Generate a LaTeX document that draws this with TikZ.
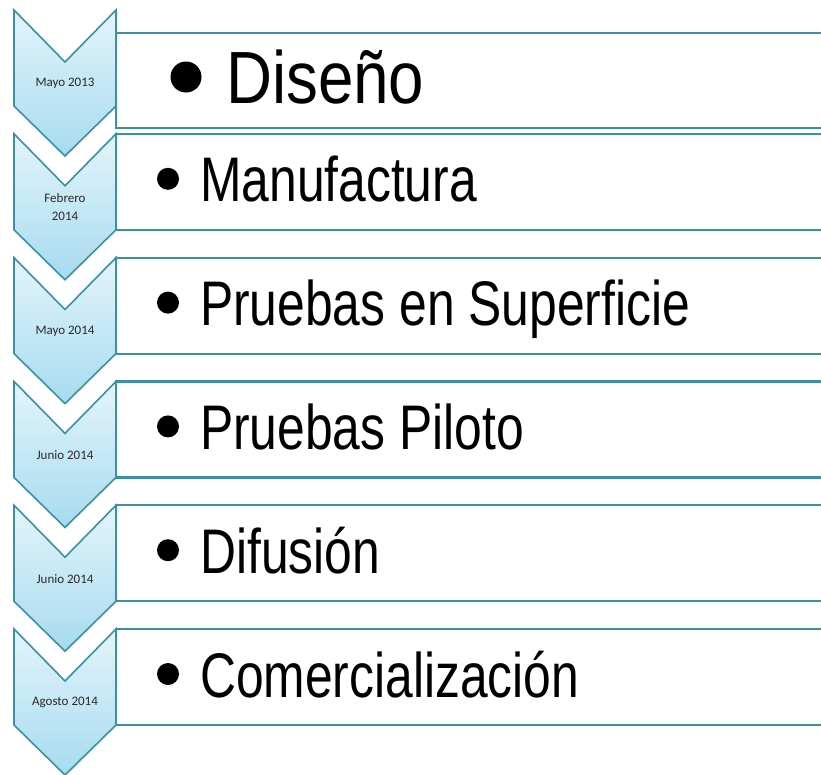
\documentclass[tikz,border=0pt]{standalone}
\usepackage{fontspec}
\setmainfont{Carlito}
\newfontfamily\condfont[FakeStretch=0.79]{Liberation Sans}
\newfontfamily\bigcondfont[FakeStretch=0.86]{Liberation Sans}
\definecolor{tealline}{HTML}{3A90A5}
\definecolor{chevtop}{HTML}{E4F4FB}
\definecolor{chevbot}{HTML}{A6DBEF}
\definecolor{datecol}{HTML}{2A2A2A}
\tikzset{
  chevron/.style={draw=tealline, line width=1.6pt, top color=chevtop, bottom color=chevbot, line join=miter},
  stagebox/.style={draw=tealline, line width=2.2pt, fill=white},
  datelabel/.style={font=\fontsize{13}{18}\selectfont, text=datecol, align=center, inner sep=0pt},
  stagetext/.style={font=\condfont\fontsize{63}{70}\selectfont, anchor=base west, inner sep=0pt},
  bigtext/.style={font=\bigcondfont\fontsize{74}{80}\selectfont, anchor=base west, inner sep=0pt},
  dot/.style={fill=black, draw=none}
}
\begin{document}
\begin{tikzpicture}[x=1pt,y=-1pt]
\useasboundingbox (0,0) rectangle (821,774);
\clip (0,0) rectangle (821,774);
% boxes
\draw[stagebox] (116,33) rectangle (835,128);
\foreach \k in {1,...,5}{
  \pgfmathsetmacro{\T}{10+123.8*\k}
  \draw[stagebox] (116,\T) rectangle (835,\T+96);
}
% chevrons
\foreach \k in {0,...,5}{
  \pgfmathsetmacro{\T}{10+123.8*\k}
  \path[chevron] (14,\T) -- (65,\T+52) -- (116,\T) -- (116,\T+96) -- (65,\T+146) -- (14,\T+96) -- cycle;
}
% dates
\node[datelabel] (d1) at (65,83) {Mayo 2013};
\node[datelabel] (d2) at (65,207.5) {Febrero\\2014};
\node[datelabel] (d3) at (65,331) {Mayo 2014};
\node[datelabel] (d4) at (65,455) {Junio 2014};
\node[datelabel] (d5) at (65,579) {Junio 2014};
\node[datelabel] (d6) at (65,702) {Agosto 2014};
% bullets
\fill[dot] (186,77) circle (15.5);
\foreach \k in {1,...,5}{
  \pgfmathsetmacro{\T}{10+123.8*\k}
  \fill[dot] (168,\T+45) circle (11);
}
% texts
\node[bigtext] (s1) at (226,103) {Diseño};
\node[stagetext] (s2) at (200,201.8) {Manufactura};
\node[stagetext] (s3) at (200,325.6) {Pruebas en Superficie};
\node[stagetext] (s4) at (200,449.4) {Pruebas Piloto};
\node[stagetext] (s5) at (200,573.2) {Difusión};
\node[stagetext] (s6) at (200,697) {Comercialización};
\end{tikzpicture}
\end{document}
